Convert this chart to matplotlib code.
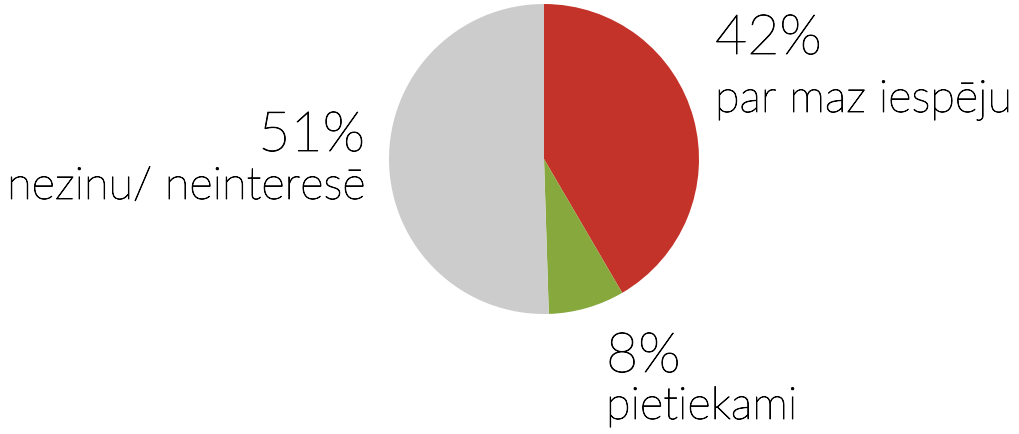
import matplotlib
matplotlib.use("Agg")
import matplotlib.pyplot as plt
import matplotlib.patheffects as pe

labels = ["par maz iespēju", "pietiekami", "nezinu/ neinteresē"]
values = [42, 8, 51]
pct_labels = ["42%", "8%", "51%"]
colors = ["#C4332A", "#87A83D", "#CCCCCC"]

W, H = 1020, 435
fig = plt.figure(figsize=(W / 100, H / 100), dpi=100)
fig.patch.set_facecolor("white")

# pie axes in pixel placement
cx, cy, r = 544, 160, 155
ax = fig.add_axes([(cx - r) / W, (H - cy - r) / H, 2 * r / W, 2 * r / H])
ax.pie(values, colors=colors, startangle=90, counterclock=False,
       wedgeprops=dict(linewidth=0))
ax.set_xlim(-1, 1)
ax.set_ylim(-1, 1)
ax.set_aspect("equal")
ax.axis("off")

fam = ["Lato", "DejaVu Sans"]
effects = [pe.Stroke(linewidth=0.6, foreground="black"), pe.Normal()]

def ftxt(x, y, s, size, ha):
    fig.text(x / W, 1 - y / H, s, fontsize=size, ha=ha, va="baseline",
             family=fam, fontweight="light", color="black",
             path_effects=effects)

# 42% label
ftxt(715, 55, pct_labels[0], 40, "left")
ftxt(715, 113, labels[0], 32.5, "left")
# 51% label
ftxt(365, 152, pct_labels[2], 40, "right")
ftxt(365, 200, labels[2], 32.5, "right")
# 8% label
ftxt(606, 373, pct_labels[1], 40, "left")
ftxt(606, 420, labels[1], 32.5, "left")

fig.savefig("out.png", dpi=100)
